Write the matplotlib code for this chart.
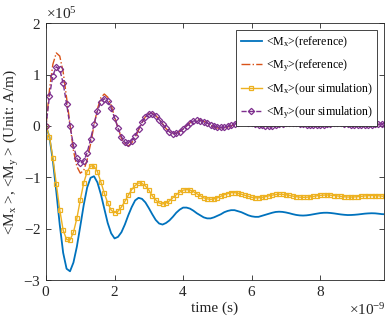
import matplotlib
matplotlib.use("Agg")
import matplotlib.pyplot as plt
import numpy as np

# time grid in ns (one sample every 0.1 ns), values below in units of 1e5 A/m
t_ns = np.arange(100) * 0.1

mx_ref = [
    0, -0.22, -0.68, -1.28, -1.92, -2.47, -2.78, -2.83, -2.66, -2.35,
    -1.95, -1.54, -1.20, -1.01, -0.98, -1.10, -1.33, -1.61, -1.89, -2.09,
    -2.19, -2.16, -2.07, -1.92, -1.74, -1.58, -1.45, -1.40, -1.42, -1.49,
    -1.60, -1.72, -1.83, -1.90, -1.92, -1.89, -1.84, -1.77, -1.69, -1.63,
    -1.59, -1.59, -1.61, -1.65, -1.70, -1.74, -1.78, -1.80, -1.80, -1.78,
    -1.75, -1.72, -1.68, -1.655, -1.64, -1.64, -1.66, -1.68, -1.71, -1.74,
    -1.76, -1.77, -1.77, -1.75, -1.73, -1.71, -1.69, -1.675, -1.67, -1.674,
    -1.685, -1.70, -1.718, -1.733, -1.742, -1.745, -1.741, -1.732, -1.72, -1.708,
    -1.697, -1.691, -1.69, -1.695, -1.703, -1.713, -1.723, -1.73, -1.735, -1.734,
    -1.73, -1.724, -1.716, -1.708, -1.703, -1.70, -1.702, -1.709, -1.717, -1.72,
]

my_ref = [
    0, 0.70, 1.20, 1.42, 1.36, 1.05, 0.55, 0.03, -0.48, -0.79,
    -0.92, -0.87, -0.66, -0.35, 0.01, 0.33, 0.55, 0.62, 0.56, 0.40,
    0.18, -0.04, -0.24, -0.36, -0.39, -0.33, -0.23, -0.08, 0.06, 0.18,
    0.24, 0.245, 0.20, 0.13, 0.04, -0.05, -0.115, -0.15, -0.14, -0.11,
    -0.06, 0.00, 0.06, 0.10, 0.12, 0.11, 0.09, 0.05, 0.02, -0.02,
    -0.04, -0.05, -0.04, -0.02, 0.00, 0.03, 0.05, 0.07, 0.07, 0.063,
    0.05, 0.032, 0.014, 0.0, -0.01, -0.01, -0.003, 0.008, 0.021, 0.035,
    0.045, 0.05, 0.049, 0.043, 0.033, 0.022, 0.011, 0.003, 0.0, 0.002,
    0.007, 0.015, 0.025, 0.033, 0.038, 0.04, 0.038, 0.033, 0.027, 0.02,
    0.014, 0.011, 0.01, 0.012, 0.015, 0.02, 0.024, 0.028, 0.03, 0.03,
]

mx_sim = [
    0, -0.21, -0.62, -1.13, -1.63, -2.03, -2.21, -2.22, -2.07, -1.80,
    -1.44, -1.11, -0.89, -0.78, -0.78, -0.89, -1.09, -1.31, -1.50, -1.64,
    -1.69, -1.66, -1.58, -1.47, -1.35, -1.24, -1.16, -1.11, -1.12, -1.17,
    -1.25, -1.36, -1.44, -1.50, -1.52, -1.50, -1.46, -1.40, -1.34, -1.29,
    -1.25, -1.24, -1.25, -1.28, -1.32, -1.36, -1.40, -1.42, -1.43, -1.42,
    -1.40, -1.37, -1.34, -1.32, -1.30, -1.30, -1.31, -1.33, -1.35, -1.37,
    -1.39, -1.40, -1.40, -1.39, -1.378, -1.362, -1.347, -1.335, -1.33, -1.332,
    -1.34, -1.352, -1.366, -1.378, -1.387, -1.39, -1.388, -1.381, -1.372, -1.361,
    -1.352, -1.347, -1.345, -1.348, -1.355, -1.363, -1.372, -1.38, -1.384, -1.385,
    -1.382, -1.377, -1.37, -1.363, -1.358, -1.355, -1.356, -1.361, -1.367, -1.37,
]

my_sim = [
    0, 0.58, 0.98, 1.15, 1.10, 0.83, 0.43, 0.0, -0.38, -0.63,
    -0.73, -0.69, -0.52, -0.26, 0.03, 0.29, 0.47, 0.53, 0.48, 0.34,
    0.16, -0.04, -0.21, -0.32, -0.34, -0.29, -0.19, -0.06, 0.07, 0.17,
    0.23, 0.235, 0.196, 0.123, 0.036, -0.05, -0.116, -0.148, -0.143, -0.112,
    -0.061, -0.002, 0.054, 0.094, 0.11, 0.104, 0.085, 0.056, 0.024, -0.005,
    -0.024, -0.03, -0.024, -0.008, 0.013, 0.036, 0.055, 0.068, 0.07, 0.064,
    0.052, 0.037, 0.021, 0.008, 0.001, 0.001, 0.007, 0.018, 0.031, 0.045,
    0.055, 0.06, 0.059, 0.053, 0.043, 0.032, 0.021, 0.013, 0.01, 0.012,
    0.017, 0.025, 0.035, 0.043, 0.048, 0.05, 0.047, 0.041, 0.033, 0.024,
    0.016, 0.011, 0.01, 0.013, 0.018, 0.024, 0.031, 0.037, 0.04, 0.04,
]

plt.rcParams["font.family"] = ["Liberation Serif", "DejaVu Serif"]
plt.rcParams["mathtext.fontset"] = "stix"
plt.rcParams["mathtext.default"] = "regular"
plt.rcParams["axes.unicode_minus"] = False

fig = plt.figure(figsize=(3.88, 3.26), dpi=100)
ax = fig.add_axes([0.1186, 0.141, 0.871, 0.788])

t = t_ns * 1e-9
ax.plot(t, np.array(mx_ref) * 1e5, color="#0072BD", lw=1.3,
        label="<M$_x$>(reference)")
ax.plot(t, np.array(my_ref) * 1e5, color="#D95319", lw=1.0, ls="-.",
        label="<M$_y$>(reference)")
ax.plot(t, np.array(mx_sim) * 1e5, color="#EDB120", lw=1.0, marker="s",
        ms=3.2, mfc="none", mew=0.9, label="<M$_x$>(our simulation)")
ax.plot(t, np.array(my_sim) * 1e5, color="#7E2F8E", lw=1.0, ls="--",
        marker="D", ms=3.2, mfc="none", mew=0.9,
        label="<M$_y$>(our simulation)")

ax.set_xlim(0, 9.86e-9)
ax.set_ylim(-3e5, 2e5)
ax.set_xticks([0, 2e-9, 4e-9, 6e-9, 8e-9])
ax.set_yticks([-3e5, -2e5, -1e5, 0, 1e5, 2e5])
ax.ticklabel_format(style="sci", scilimits=(0, 0), useMathText=True)
ax.tick_params(direction="in", top=True, right=True, length=3.5,
               width=0.6, labelsize=11, colors="#262626")
ax.yaxis.get_offset_text().set_fontsize(11)
# x exponent sits level with the axis label, as in the original
ax.xaxis.get_offset_text().set_visible(False)
fig.text(0.995, 0.025, r"$\times$10$^{-9}$", ha="right", va="bottom",
         fontsize=11, color="#262626")
for sp in ax.spines.values():
    sp.set_linewidth(0.6)
    sp.set_color("#262626")

ax.set_xlabel("time (s)", fontsize=11, color="#262626", labelpad=2)
ax.set_ylabel("<M$_x$ >, <M$_y$ > (Unit: A/m)", fontsize=11,
              color="#262626", labelpad=2)

leg = ax.legend(loc="upper right", fontsize=8.6, handlelength=1.8,
                borderaxespad=0.55, labelspacing=0.62, fancybox=False,
                framealpha=1, edgecolor="#262626", borderpad=0.4,
                handletextpad=0.3)
leg.get_frame().set_linewidth(0.6)

fig.savefig("out.png", dpi=100)
